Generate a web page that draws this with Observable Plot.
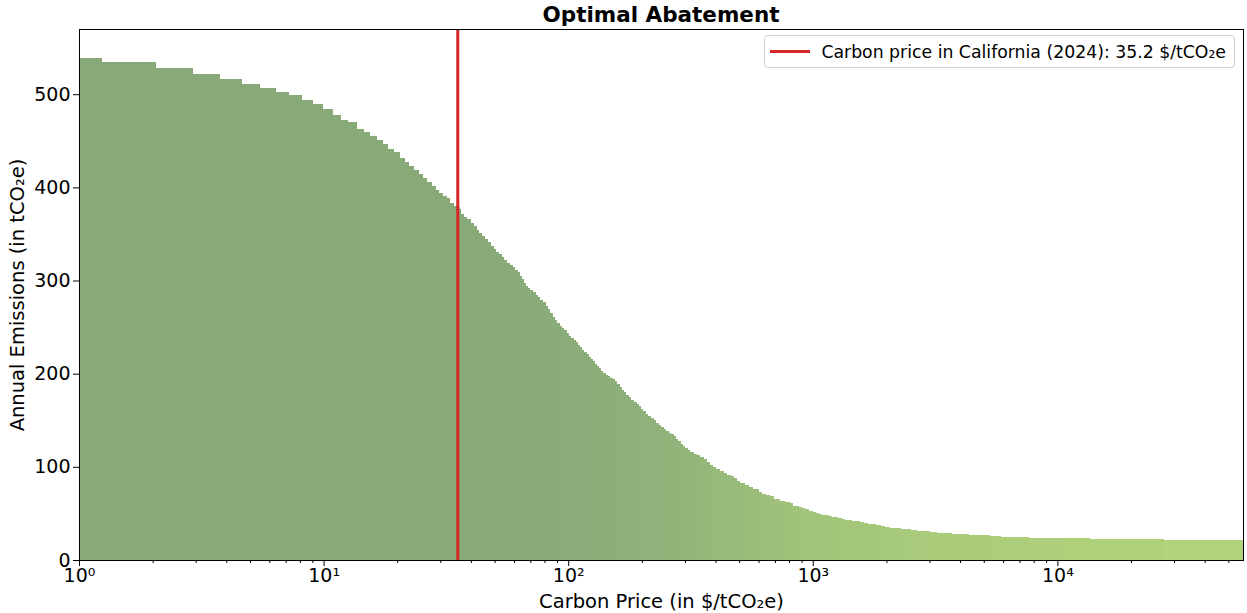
<!DOCTYPE html>
<html>
<head>
<meta charset="utf-8">
<script src="https://cdn.jsdelivr.net/npm/d3@7"></script>
<script src="https://cdn.jsdelivr.net/npm/@observablehq/plot@0.6"></script>
<style>
  body { margin: 0; background: #fff; font-family: "DejaVu Sans", sans-serif; }
  #wrap { position: relative; width: 1247px; height: 613px; }
  #title { position: absolute; left: 79px; width: 1164px; top: 2px; text-align: center;
           font-weight: bold; font-size: 21.5px; line-height: 26px; color: #000; }
  #legend { position: absolute; right: 12px; top: 35px; height: 33px; box-sizing: border-box;
            border: 1px solid #d0d0d0; border-radius: 4px; background: rgba(255,255,255,0.85);
            display: flex; align-items: center; padding-right: 8px; font-size: 17.3px; color: #000; }
  #legend .swatch { width: 40px; height: 3px; background: #d62728; margin: 0 11px 0 5px; }
  #chart svg g[aria-label="x-axis label"] text,
  #chart svg g[aria-label="y-axis label"] text { font-size: 19.5px; }
</style>
</head>
<body>
<div id="wrap">
  <div id="chart"></div>
  <div id="title">Optimal Abatement</div>
  <div id="legend"><span class="swatch"></span><span id="legendText"></span></div>
</div>
<script>
// Carbon price at which each abatement step starts ($/tCO2e)
const stepPrice = [
  1, 1.238, 2.064, 2.916, 3.772, 4.639, 5.495, 6.389, 7.219, 8.161,
  9.050, 9.915, 10.89, 11.78, 12.64, 13.70, 14.63, 15.48, 16.54, 17.50,
  18.34, 19.41, 20.53, 21.52, 22.35, 23.42, 24.55, 25.49, 26.47, 27.75,
  28.81, 29.64, 30.78, 31.96, 32.88, 34.13, 35.12, 36.13, 36.47, 37.50,
  38.58, 40.05, 41.20, 42.39, 43.19, 44.43, 45.71, 47.00, 48.35, 49.74,
  50.68, 52.13, 53.63, 54.64, 56.21, 57.82, 59.47, 60.60, 62.34, 63.53,
  64.73, 65.96, 67.21, 68.49, 69.79, 71.79, 73.85, 75.25, 76.68, 78.88,
  81.13, 82.67, 84.24, 86.66, 88.31, 89.99, 92.57, 94.33, 96.12, 98.88,
  100.8, 102.7, 105.6, 107.6, 109.7, 111.7, 113.9, 116.0, 119.4, 121.6,
  124.0, 126.3, 128.7, 131.1, 133.6, 136.2, 138.7, 142.7, 145.5, 148.2,
  152.5, 155.4, 158.3, 162.8, 166.0, 169.1, 172.3, 177.3, 180.6, 185.8,
  191.1, 194.8, 198.5, 202.2, 208.0, 212.0, 218.0, 224.3, 228.6, 235.1,
  239.6, 246.4, 251.1, 258.3, 263.2, 270.8, 275.9, 281.2, 289.2, 294.7,
  300.3, 308.9, 314.8, 326.8, 336.2, 345.8, 359.1, 369.4, 379.9, 390.8,
  402.0, 417.4, 433.5, 445.9, 463.0, 476.3, 489.9, 504.0, 528.3, 548.6,
  569.6, 602.6, 619.9, 643.7, 668.3, 693.9, 734.2, 769.9, 807.0, 830.1,
  878.3, 903.5, 929.2, 965.0, 1002, 1031, 1060, 1090, 1165, 1198,
  1268, 1316, 1354, 1446, 1560, 1619, 1682, 1813, 1900, 1973,
  2068, 2294, 2521, 2667, 3014, 3220, 3708, 4352, 5302, 5881,
  7654, 10743, 13594, 27290
];
// Remaining annual emissions at that price (tCO2e)
const emissions = [
  539.0, 534.4, 528.1, 521.8, 516.3, 510.9, 506.7, 502.5, 499.1, 493.7,
  489.5, 484.0, 477.7, 472.2, 470.0, 462.6, 459.3, 454.8, 450.8, 446.5,
  441.4, 438.0, 431.5, 427.2, 422.9, 418.6, 414.3, 410.0, 405.8, 401.5,
  397.2, 393.9, 390.7, 388.6, 383.2, 380.0, 378.5, 376.8, 371.4, 368.2,
  366.0, 361.7, 358.5, 354.2, 351.0, 347.8, 344.6, 341.3, 337.1, 333.8,
  330.6, 328.5, 325.2, 322.0, 318.8, 316.7, 314.5, 311.3, 309.2, 304.9,
  301.6, 297.3, 294.1, 292.0, 289.8, 287.7, 284.5, 282.3, 279.1, 276.9,
  272.6, 269.4, 265.1, 260.8, 257.6, 254.4, 251.2, 249.0, 246.9, 243.7,
  240.4, 238.3, 236.2, 234.0, 230.8, 228.6, 225.4, 223.3, 221.1, 217.9,
  215.8, 213.6, 210.4, 208.2, 206.1, 202.9, 200.7, 198.6, 197.0, 195.4,
  194.3, 192.1, 188.9, 185.7, 182.5, 180.3, 177.1, 175.0, 171.7, 169.6,
  167.5, 165.3, 162.1, 159.9, 156.7, 154.6, 152.4, 150.3, 147.1, 144.9,
  142.8, 140.6, 138.5, 136.3, 135.3, 133.1, 129.9, 127.7, 124.5, 122.4,
  120.2, 118.1, 115.9, 113.8, 112.7, 110.6, 108.4, 105.2, 102.0, 99.8,
  97.7, 95.5, 93.4, 91.2, 90.2, 88.0, 84.8, 82.7, 80.5, 78.4,
  76.2, 73.0, 70.8, 69.8, 68.7, 65.5, 63.8, 62.4, 61.2, 58.0,
  56.9, 55.8, 54.7, 52.6, 51.5, 50.5, 49.4, 48.3, 47.2, 46.2,
  45.1, 44.0, 42.9, 41.9, 40.8, 39.7, 38.6, 37.6, 36.5, 35.4,
  34.3, 33.3, 32.2, 31.1, 30.1, 29.0, 27.9, 26.8, 25.8, 24.7,
  23.6, 23.6, 22.5, 21.5
];
const priceMax = 57400;          // upper end of the last step
const carbonPrice = 35.2;        // California, 2024
const yTicks = [0, 100, 200, 300, 400, 500];
const xMajorTicks = [1, 10, 100, 1000, 10000];
const xMinorTicks = [2,3,4,5,6,7,8,9, 20,30,40,50,60,70,80,90,
  200,300,400,500,600,700,800,900, 2000,3000,4000,5000,6000,7000,8000,9000,
  20000,30000,40000,50000];
// Bar colour ramp along the price axis
const colorPrices = [1, 40, 150, 240, 830, 3000, 57400];
const colorStops = ["#88aa79", "#88aa79", "#8cae79", "#90b27a", "#a0c27a", "#aacc7b", "#b3d67b"];

const bars = stepPrice.map((p, i) => ({
  x1: p,
  x2: i + 1 < stepPrice.length ? stepPrice[i + 1] : priceMax,
  y: emissions[i]
}));

const sup = {"0": "⁰", "1": "¹", "2": "²", "3": "³", "4": "⁴"};
const powLabel = d => "10" + sup[String(Math.round(Math.log10(d)))];

document.getElementById("legendText").textContent =
  `Carbon price in California (2024): ${carbonPrice} $/tCO₂e`;

const chart = Plot.plot({
  width: 1247,
  height: 613,
  marginLeft: 79,
  marginRight: 4,
  marginTop: 29,
  marginBottom: 53,
  style: { fontFamily: "DejaVu Sans", fontSize: "19px", color: "#000", background: "white" },
  x: { type: "log", domain: [1, priceMax] },
  y: { domain: [0, 570] },
  color: { type: "log", domain: colorPrices, range: colorStops },
  marks: [
    Plot.rectY(bars, { x1: "x1", x2: "x2", y: "y", fill: "x1", inset: 0, shapeRendering: "crispEdges" }),
    Plot.ruleX([carbonPrice], { stroke: "#d62728", strokeWidth: 3 }),
    Plot.axisX({ ticks: xMinorTicks, tickSize: 3, tickFormat: () => "", label: null }),
    Plot.axisX({
      ticks: xMajorTicks, tickSize: 6, tickPadding: 2, tickFormat: powLabel,
      label: "Carbon Price (in $/tCO₂e)", labelAnchor: "center", labelArrow: "none", labelOffset: 47
    }),
    Plot.axisY({
      ticks: yTicks, tickSize: 6, tickPadding: 3,
      label: "Annual Emissions (in tCO₂e)", labelAnchor: "center", labelArrow: "none", labelOffset: 69
    }),
    Plot.frame({ stroke: "#000", strokeWidth: 1 })
  ]
});
document.getElementById("chart").appendChild(chart);
</script>
</body>
</html>
